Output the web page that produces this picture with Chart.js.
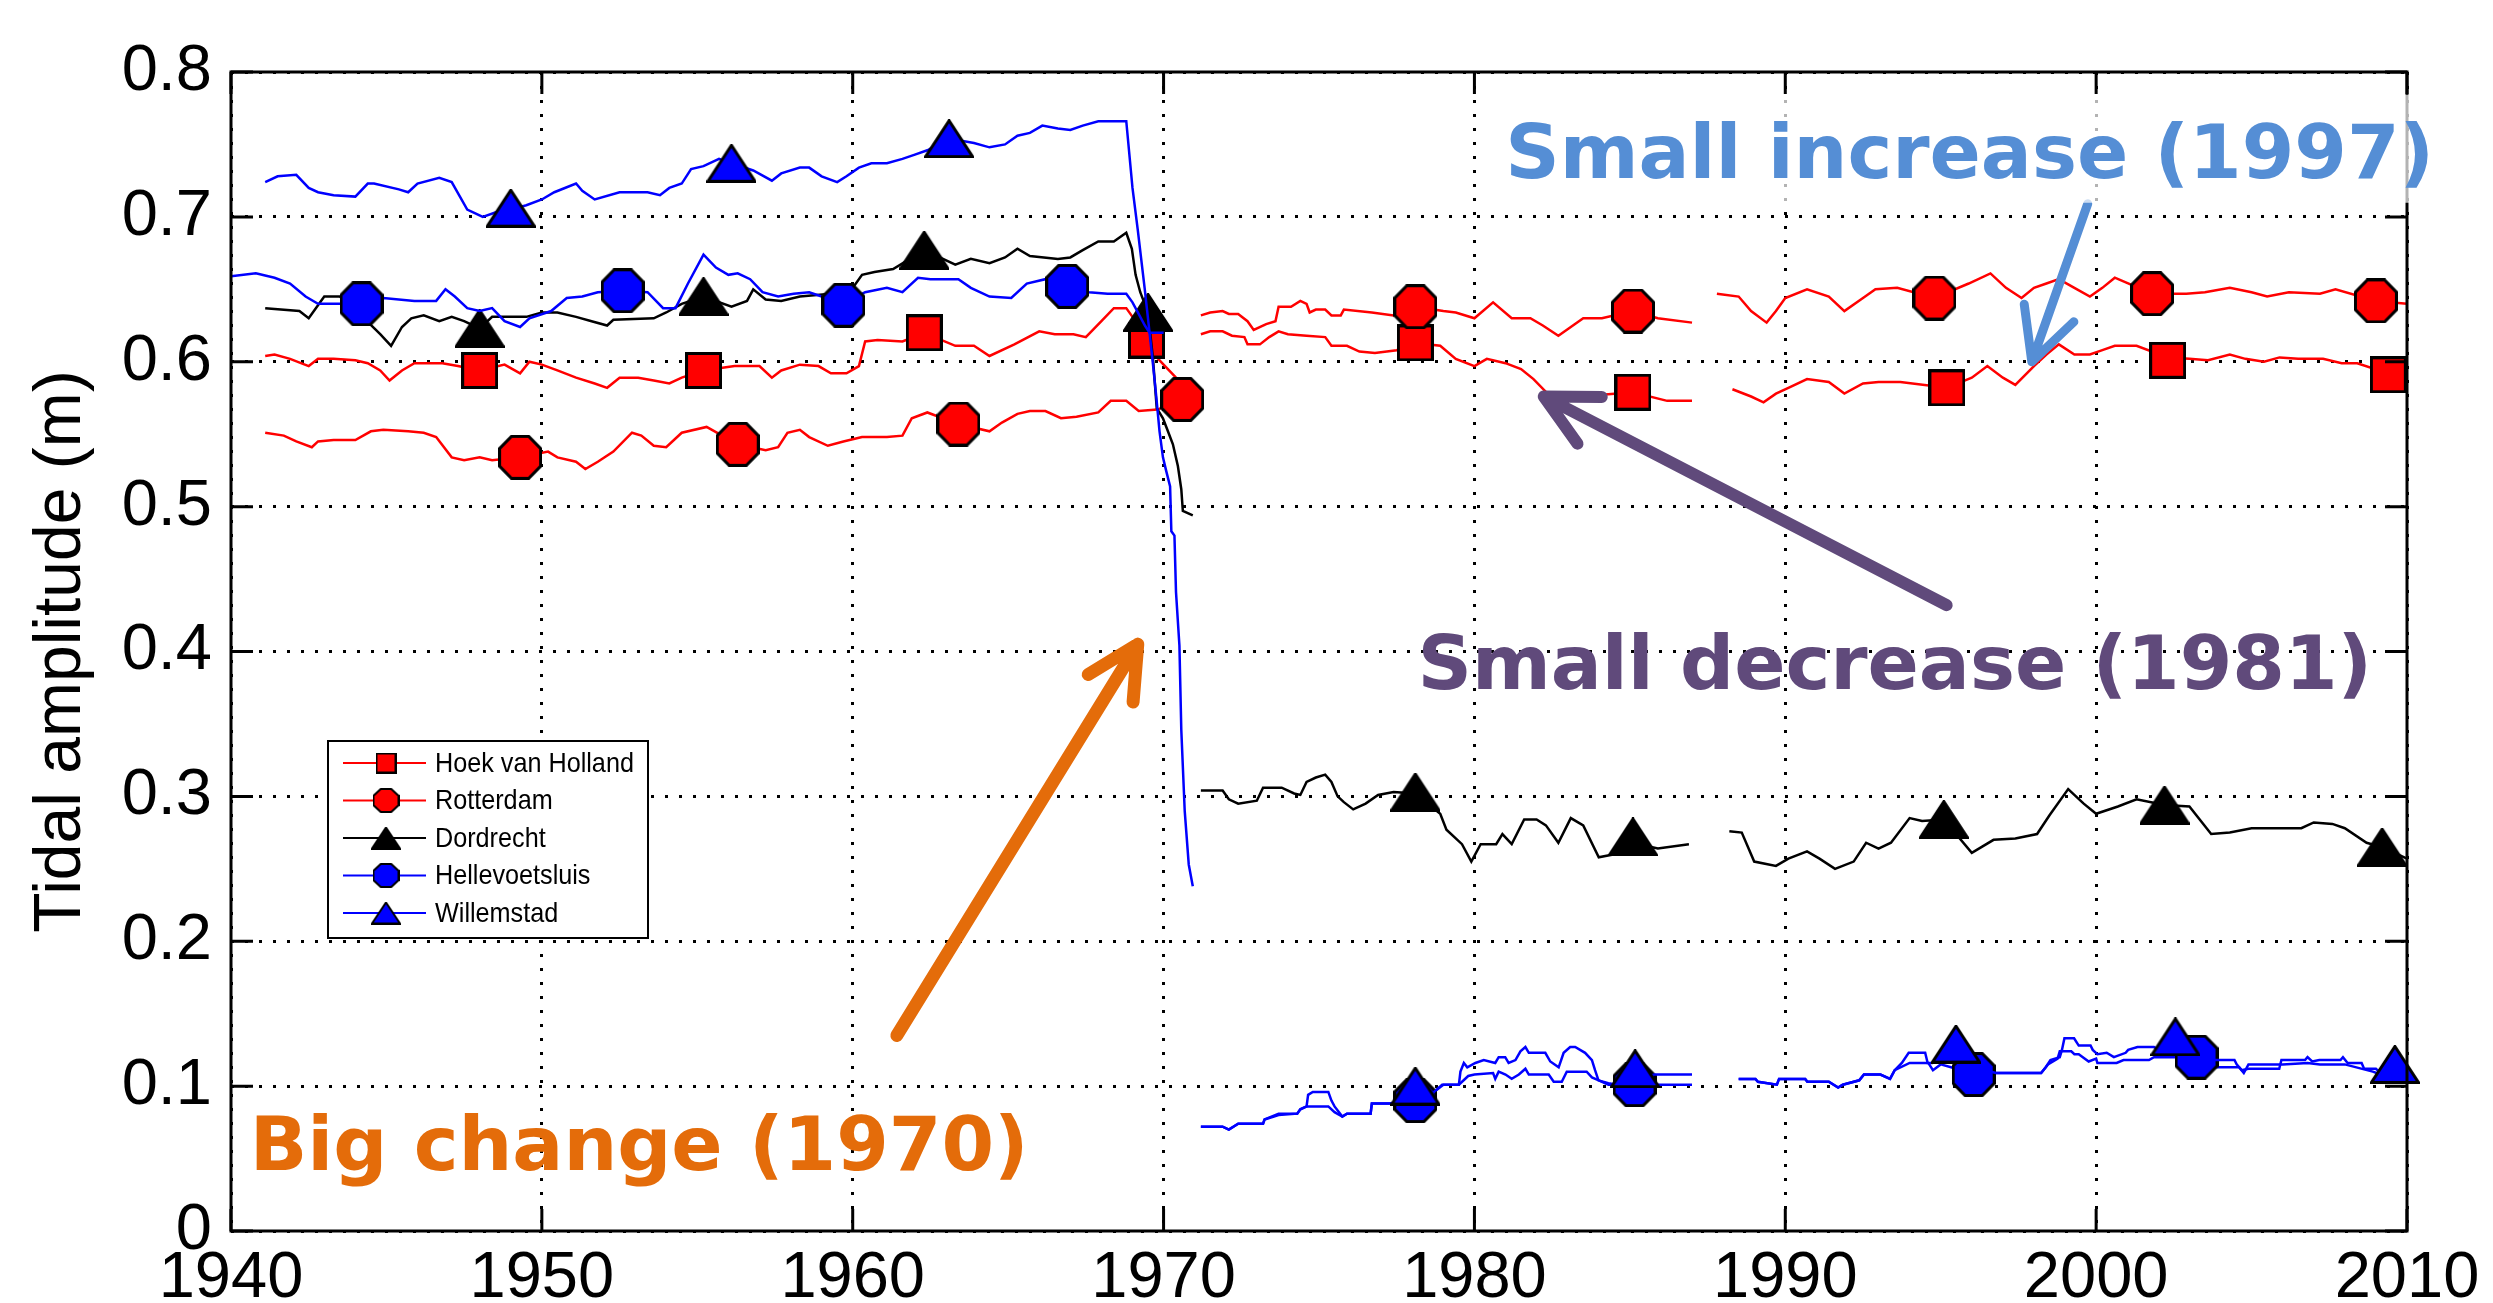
<!DOCTYPE html>
<html>
<head>
<meta charset="utf-8">
<title>Tidal amplitude</title>
<script src="https://cdn.jsdelivr.net/npm/chart.js@4.4.1/dist/chart.umd.min.js"></script>
<style>
  html, body { margin: 0; padding: 0; background: #fff; }
  canvas { display: block; }
</style>
</head>
<body>
<canvas id="chart" width="2493" height="1303"></canvas>
<script>
// ---- data ----
const yearTicks = [1940, 1950, 1960, 1970, 1980, 1990, 2000, 2010];
const ampTicks = [0, 0.1, 0.2, 0.3, 0.4, 0.5, 0.6, 0.7, 0.8];

const stations = ['Hoek van Holland', 'Rotterdam', 'Dordrecht', 'Hellevoetsluis', 'Willemstad'];

// Hoek van Holland
const hoekYears = [
  1941.1, 1941.4, 1941.9, 1942.5, 1942.8, 1943.3, 1944.0, 1944.4, 1944.8, 1945.1,
  1945.5, 1945.9, 1946.8, 1947.3, 1948.0, 1948.8, 1949.3, 1949.6, 1950.0, 1950.5,
  1951.1, 1951.7, 1952.1, 1952.5, 1953.1, 1953.6, 1954.1, 1954.5, 1955.2, 1956.2,
  1957.0, 1957.4, 1957.7, 1958.3, 1958.9, 1959.3, 1959.8, 1960.2, 1960.4, 1960.8,
  1961.6, 1962.3, 1963.3, 1963.9, 1964.4, 1965.2, 1966.0, 1966.5, 1967.1, 1967.5,
  1968.0, 1968.4, 1968.8, 1969.0, 1969.45, 1969.7, 1970.0, 1970.4, 1970.8, 1971.2,
  1971.5, 1971.9, 1972.2, 1972.6, 1972.7, 1973.1, 1973.4, 1973.7, 1974.0, 1974.6,
  1975.2, 1975.4, 1975.9, 1976.3, 1976.8, 1977.5, 1978.1, 1978.9, 1979.4, 1980.0,
  1980.4, 1981.0, 1981.5, 1981.9, 1982.4, 1983.3, 1984.0, 1985.1, 1986.2, 1987.0,
  1987.6, 1988.3, 1988.9, 1989.3, 1989.7, 1990.1, 1990.7, 1991.4, 1991.9, 1992.5,
  1993.0, 1993.7, 1995.2, 1996.0, 1996.5, 1997.0, 1997.4, 1998.0, 1998.4, 1998.8,
  1999.3, 1999.8, 2000.2, 2000.6, 2001.3, 2002.3, 2003.0, 2003.6, 2004.3, 2004.8,
  2005.4, 2005.9, 2006.5, 2007.3, 2007.9, 2008.4, 2009.4, 2010.0
];
const hoekValues = [
  0.604, 0.605, 0.602, 0.597, 0.602, 0.602, 0.601, 0.599, 0.594, 0.587,
  0.594, 0.599, 0.599, 0.597, 0.594, 0.598, 0.592, 0.600, 0.598, 0.594,
  0.589, 0.585, 0.582, 0.589, 0.589, 0.587, 0.585, 0.589, 0.594, 0.597,
  0.597, 0.589, 0.594, 0.598, 0.597, 0.592, 0.592, 0.597, 0.614, 0.615,
  0.614, 0.620, 0.611, 0.611, 0.604, 0.612, 0.621, 0.619, 0.619, 0.617,
  0.628, 0.637, 0.637, 0.631, 0.614, 0.605, 0.598, 0.589, null, 0.619,
  0.621, 0.621, 0.618, 0.617, 0.612, 0.612, 0.617, 0.621, 0.619, 0.618,
  0.617, 0.611, 0.611, 0.607, 0.606, 0.608, 0.613, 0.611, 0.602, 0.597,
  0.602, 0.599, 0.595, 0.588, 0.577, 0.577, 0.577, 0.579, 0.573, 0.573,
  null, 0.581, 0.576, 0.572, 0.578, 0.582, 0.588, 0.586, 0.578, 0.585,
  0.586, 0.586, 0.582, 0.589, 0.597, 0.589, 0.584, 0.597, 0.605, 0.612,
  0.605, 0.605, 0.608, 0.611, 0.611, 0.603, 0.602, 0.601, 0.605, 0.602,
  0.600, 0.603, 0.602, 0.602, 0.599, 0.599, 0.592, 0.597
];
const hoekMarkYears = [1948.0, 1955.2, 1962.3, 1969.45, 1978.1, 1985.1, 1995.2, 2002.3, 2009.4];
const hoekMarkValues = [0.594, 0.594, 0.620, 0.615, 0.613, 0.579, 0.582, 0.601, 0.591];

// Rotterdam
const rotterdamYears = [
  1941.1, 1941.7, 1942.1, 1942.6, 1942.8, 1943.3, 1944.0, 1944.5, 1944.9, 1945.7,
  1946.2, 1946.6, 1947.1, 1947.5, 1948.0, 1948.4, 1949.3, 1950.2, 1950.5, 1951.1,
  1951.4, 1951.8, 1952.3, 1952.9, 1953.2, 1953.6, 1954.0, 1954.5, 1955.3, 1956.3,
  1957.2, 1957.6, 1957.9, 1958.3, 1958.6, 1959.2, 1959.7, 1960.3, 1961.1, 1961.6,
  1961.9, 1962.4, 1963.4, 1964.4, 1964.8, 1965.3, 1965.7, 1966.2, 1966.7, 1967.2,
  1967.9, 1968.3, 1968.8, 1969.2, 1969.8, 1970.6, 1970.9, 1971.2, 1971.5, 1971.9,
  1972.1, 1972.4, 1972.7, 1972.9, 1973.3, 1973.6, 1973.7, 1974.1, 1974.4, 1974.6,
  1974.7, 1974.9, 1975.2, 1975.4, 1975.7, 1975.8, 1976.7, 1977.4, 1978.1, 1979.0,
  1979.4, 1980.0, 1980.6, 1981.2, 1981.8, 1982.2, 1982.7, 1983.1, 1983.5, 1984.1,
  1985.1, 1985.9, 1987.0, 1987.4, 1987.8, 1988.5, 1988.9, 1989.4, 1989.7, 1990.0,
  1990.7, 1991.4, 1991.9, 1992.5, 1992.9, 1993.6, 1994.8, 1995.9, 1996.6, 1997.1,
  1997.6, 1998.0, 1998.4, 1998.8, 1999.3, 1999.8, 2000.2, 2000.6, 2001.8, 2002.9,
  2003.5, 2004.3, 2005.0, 2005.5, 2006.2, 2007.2, 2007.7, 2009.0, 2010.0
];
const rotterdamValues = [
  0.551, 0.549, 0.545, 0.541, 0.545, 0.546, 0.546, 0.552, 0.553, 0.552,
  0.551, 0.548, 0.534, 0.532, 0.534, 0.532, 0.534, 0.538, 0.534, 0.531,
  0.526, 0.531, 0.538, 0.551, 0.549, 0.542, 0.541, 0.551, 0.555, 0.543,
  0.539, 0.541, 0.551, 0.553, 0.548, 0.542, 0.545, 0.548, 0.548, 0.549,
  0.561, 0.565, 0.557, 0.552, 0.558, 0.564, 0.566, 0.566, 0.561, 0.562,
  0.565, 0.573, 0.573, 0.566, 0.567, 0.574, null, 0.632, 0.634, 0.635,
  0.633, 0.633, 0.628, 0.622, 0.626, 0.628, 0.638, 0.638, 0.642, 0.640,
  0.634, 0.636, 0.636, 0.632, 0.632, 0.636, 0.634, 0.632, 0.638, 0.635,
  0.634, 0.630, 0.641, 0.630, 0.630, 0.625, 0.618, 0.624, 0.630, 0.630,
  0.635, 0.630, 0.627, null, 0.647, 0.645, 0.635, 0.627, 0.635, 0.644,
  0.650, 0.645, 0.635, 0.644, 0.650, 0.651, 0.644, 0.654, 0.661, 0.651,
  0.644, 0.651, 0.654, 0.657, 0.651, 0.645, 0.651, 0.658, 0.647, 0.647,
  0.648, 0.651, 0.648, 0.645, 0.648, 0.647, 0.650, 0.642, 0.640
];
const rotterdamMarkYears = [1949.3, 1956.3, 1963.4, 1970.6, 1978.1, 1985.1, 1994.8, 2001.8, 2009.0];
const rotterdamMarkValues = [0.534, 0.543, 0.557, 0.574, 0.638, 0.635, 0.644, 0.647, 0.642];

// Dordrecht
const dordrechtYears = [
  1941.1, 1942.2, 1942.5, 1943.0, 1943.5, 1943.9, 1944.8, 1945.15, 1945.5, 1945.8,
  1946.2, 1946.7, 1947.1, 1947.5, 1948.0, 1948.4, 1949.5, 1950.0, 1950.5, 1951.1,
  1951.6, 1952.1, 1952.3, 1953.6, 1954.0, 1954.5, 1955.2, 1956.1, 1956.6, 1956.8,
  1957.2, 1957.7, 1958.3, 1959.3, 1959.9, 1960.3, 1960.7, 1961.3, 1962.3, 1963.3,
  1963.8, 1964.4, 1964.9, 1965.3, 1965.7, 1966.6, 1967.0, 1967.4, 1967.9, 1968.4,
  1968.8, 1968.98, 1969.1, 1969.25, 1969.5, 1969.66, 1969.78, 1969.98, 1970.14, 1970.3,
  1970.46, 1970.57, 1970.62, 1970.94, 1971.1, 1971.2, 1971.9, 1972.1, 1972.4, 1973.0,
  1973.2, 1973.8, 1974.2, 1974.4, 1974.6, 1974.9, 1975.2, 1975.4, 1975.6, 1975.8,
  1976.1, 1976.5, 1976.9, 1977.4, 1978.1, 1978.9, 1979.1, 1979.6, 1979.9, 1980.2,
  1980.7, 1980.9, 1981.2, 1981.6, 1982.0, 1982.3, 1982.7, 1983.1, 1983.5, 1984.0,
  1984.5, 1985.1, 1985.9, 1986.9, 1987.5, 1988.2, 1988.6, 1989.0, 1989.7, 1990.1,
  1990.7, 1991.1, 1991.6, 1992.2, 1992.6, 1993.0, 1993.4, 1994.0, 1994.4, 1995.1,
  1996.0, 1996.7, 1997.4, 1998.1, 1998.5, 1999.1, 1999.6, 2000.0, 2000.7, 2001.3,
  2002.2, 2003.0, 2003.7, 2004.3, 2005.0, 2005.9, 2006.6, 2007.0, 2007.6, 2008.0,
  2008.7, 2009.2, 2010.0
];
const dordrechtValues = [
  0.637, 0.635, 0.630, 0.645, 0.645, 0.638, 0.619, 0.611, 0.624, 0.630,
  0.632, 0.628, 0.631, 0.628, 0.623, 0.631, 0.631, 0.634, 0.634, 0.631,
  0.628, 0.625, 0.629, 0.630, 0.634, 0.640, 0.645, 0.638, 0.642, 0.650,
  0.643, 0.642, 0.645, 0.647, 0.648, 0.660, 0.662, 0.664, 0.677, 0.667,
  0.671, 0.668, 0.672, 0.678, 0.673, 0.671, 0.672, 0.677, 0.683, 0.683,
  0.689, 0.678, 0.660, 0.648, 0.634, 0.602, 0.568, 0.561, 0.552, 0.543,
  0.528, 0.512, 0.497, 0.494, null, 0.304, 0.304, 0.298, 0.295, 0.297,
  0.306, 0.306, 0.302, 0.301, 0.310, 0.313, 0.315, 0.310, 0.300, 0.296,
  0.291, 0.295, 0.301, 0.303, 0.302, 0.288, 0.277, 0.267, 0.255, 0.267,
  0.267, 0.274, 0.267, 0.284, 0.284, 0.280, 0.268, 0.285, 0.280, 0.258,
  0.260, 0.268, 0.264, 0.267, null, 0.276, 0.275, 0.255, 0.252, 0.257,
  0.262, 0.257, 0.250, 0.255, 0.268, 0.264, 0.268, 0.285, 0.283, 0.284,
  0.261, 0.270, 0.271, 0.274, 0.287, 0.305, 0.295, 0.288, 0.293, 0.298,
  0.294, 0.293, 0.274, 0.275, 0.278, 0.278, 0.278, 0.282, 0.281, 0.278,
  0.268, 0.265, 0.257
];
const dordrechtMarkYears = [1948.0, 1955.2, 1962.3, 1969.5, 1978.1, 1985.1, 1995.1, 2002.2, 2009.2];
const dordrechtMarkValues = [0.623, 0.645, 0.677, 0.634, 0.303, 0.272, 0.284, 0.294, 0.265];

// Hellevoetsluis
const hellevoetYears = [
  1940.0, 1940.8, 1941.4, 1941.9, 1942.4, 1942.8, 1944.2, 1944.9, 1945.9, 1946.6,
  1946.9, 1947.2, 1947.6, 1948.0, 1948.4, 1948.8, 1949.3, 1949.6, 1950.3, 1950.8,
  1951.3, 1951.8, 1952.6, 1953.4, 1953.9, 1954.3, 1954.7, 1955.2, 1955.6, 1956.0,
  1956.3, 1956.7, 1957.1, 1957.6, 1958.1, 1958.6, 1959.7, 1960.4, 1961.1, 1961.6,
  1962.1, 1962.5, 1963.4, 1963.8, 1964.4, 1965.1, 1965.6, 1966.2, 1966.9, 1967.6,
  1968.2, 1968.8, 1969.0, 1969.4, 1969.55, 1970.0, 1970.6, 1971.2, 1971.9, 1972.1,
  1972.4, 1973.2, 1973.25, 1973.7, 1974.3, 1974.4, 1974.6, 1975.3, 1975.5, 1975.75,
  1975.9, 1976.66, 1976.7, 1977.3, 1978.1, 1978.7, 1979.0, 1979.5, 1979.8, 1980.0,
  1980.6, 1980.67, 1980.78, 1981.0, 1981.2, 1981.43, 1981.64, 1981.75, 1982.39, 1982.55,
  1982.81, 1982.97, 1983.61, 1983.78, 1984.0, 1984.31, 1984.6, 1985.15, 1985.8, 1987.0,
  1987.7, 1988.5, 1989.04, 1989.12, 1989.73, 1989.8, 1990.64, 1990.71, 1991.4, 1991.7,
  1991.85, 1992.38, 1992.53, 1993.06, 1993.37, 1993.52, 1994.0, 1994.6, 1994.75, 1995.0,
  1995.5, 1996.06, 1996.78, 1998.23, 1998.45, 1998.76, 1998.83, 1999.2, 1999.3, 1999.44,
  1999.76, 2000.0, 2000.04, 2000.66, 2000.88, 2001.7, 2001.86, 2003.23, 2003.84, 2004.6,
  2004.75, 2004.9, 2006.0, 2006.8, 2007.2, 2008.0, 2008.9, 2009.15, 2010.0
];
const hellevoetValues = [
  0.659, 0.661, 0.658, 0.654, 0.645, 0.640, 0.640, 0.644, 0.642, 0.642,
  0.650, 0.645, 0.637, 0.635, 0.637, 0.628, 0.624, 0.630, 0.635, 0.644,
  0.645, 0.648, 0.649, 0.648, 0.637, 0.637, 0.654, 0.674, 0.665, 0.660,
  0.661, 0.657, 0.648, 0.645, 0.647, 0.648, 0.640, 0.648, 0.651, 0.648,
  0.658, 0.657, 0.657, 0.651, 0.645, 0.644, 0.654, 0.657, 0.652, 0.648,
  0.647, 0.647, 0.641, 0.625, 0.620, 0.620, null, 0.072, 0.072, 0.070,
  0.074, 0.074, 0.077, 0.080, 0.081, 0.084, 0.086, 0.086, 0.082, 0.079,
  0.081, 0.081, 0.088, 0.088, 0.090, 0.096, 0.101, 0.101, 0.107, 0.108,
  0.109, 0.105, 0.110, 0.108, 0.105, 0.108, 0.112, 0.108, 0.108, 0.103,
  0.103, 0.110, 0.110, 0.106, 0.104, 0.101, 0.101, 0.101, 0.101, 0.101,
  null, 0.105, 0.105, 0.103, 0.101, 0.105, 0.105, 0.103, 0.103, 0.099,
  0.101, 0.104, 0.108, 0.108, 0.105, 0.111, 0.116, 0.116, 0.111, 0.115,
  0.112, 0.108, 0.109, 0.109, 0.115, 0.119, 0.124, 0.124, 0.122, 0.122,
  0.117, 0.119, 0.116, 0.116, 0.118, 0.118, 0.120, 0.120, 0.113, 0.113,
  0.109, 0.115, 0.115, 0.116, 0.115, 0.115, 0.110, 0.108, 0.105
];
const hellevoetMarkYears = [1944.2, 1952.6, 1959.7, 1966.9, 1978.1, 1985.15, 1996.06, 2003.23];
const hellevoetMarkValues = [0.640, 0.649, 0.639, 0.652, 0.090, 0.101, 0.108, 0.120];

// Willemstad
const willemYears = [
  1941.1, 1941.5, 1942.1, 1942.5, 1942.8, 1943.3, 1944.0, 1944.4, 1944.6, 1945.4,
  1945.7, 1946.0, 1946.7, 1947.1, 1947.6, 1948.1, 1948.5, 1949.0, 1949.5, 1950.0,
  1950.4, 1951.1, 1951.3, 1951.7, 1952.5, 1953.4, 1953.8, 1954.1, 1954.5, 1954.8,
  1955.2, 1955.7, 1956.1, 1956.8, 1957.4, 1957.7, 1958.3, 1958.6, 1959.0, 1959.5,
  1959.8, 1960.2, 1960.6, 1961.1, 1961.6, 1962.0, 1962.4, 1963.1, 1963.9, 1964.4,
  1964.9, 1965.3, 1965.7, 1966.1, 1966.6, 1967.0, 1967.4, 1967.9, 1968.4, 1968.8,
  1969.0, 1969.17, 1969.39, 1969.55, 1969.66, 1969.76, 1969.87, 1969.98, 1970.08, 1970.21,
  1970.25, 1970.35, 1970.4, 1970.51, 1970.57, 1970.68, 1970.81, 1970.94, 1971.1, 1971.2,
  1971.9, 1972.1, 1972.4, 1973.2, 1973.25, 1973.7, 1974.3, 1974.4, 1974.6, 1974.65,
  1974.8, 1975.3, 1975.4, 1975.5, 1975.75, 1975.9, 1976.66, 1976.7, 1977.3, 1978.1,
  1978.7, 1978.96, 1979.5, 1979.55, 1979.66, 1979.77, 1980.03, 1980.3, 1980.67, 1980.78,
  1980.99, 1981.1, 1981.32, 1981.48, 1981.64, 1981.75, 1982.28, 1982.44, 1982.71, 1982.87,
  1983.08, 1983.24, 1983.56, 1983.78, 1983.88, 1983.99, 1984.31, 1984.6, 1985.17, 1985.8,
  1987.0, 1987.7, 1988.5, 1989.04, 1989.12, 1989.73, 1989.8, 1990.64, 1990.71, 1991.4,
  1991.7, 1991.85, 1992.38, 1992.53, 1993.06, 1993.37, 1993.52, 1993.75, 1993.97, 1994.5,
  1994.58, 1994.73, 1995.0, 1995.49, 1996.0, 1996.78, 1998.23, 1998.38, 1998.53, 1998.83,
  1998.9, 1998.98, 1999.29, 1999.44, 1999.82, 1999.89, 2000.04, 2000.34, 2000.57, 2000.95,
  2001.03, 2001.33, 2001.86, 2002.01, 2002.55, 2003.0, 2003.84, 2004.45, 2004.52, 2004.68,
  2004.9, 2005.89, 2005.96, 2006.72, 2006.8, 2006.95, 2007.18, 2007.86, 2007.94, 2008.09,
  2008.54, 2008.62, 2009.0, 2009.15, 2009.61, 2010.0
];
const willemValues = [
  0.724, 0.728, 0.729, 0.720, 0.717, 0.715, 0.714, 0.723, 0.723, 0.719,
  0.717, 0.723, 0.727, 0.724, 0.705, 0.700, 0.703, 0.705, 0.708, 0.712,
  0.717, 0.723, 0.718, 0.712, 0.717, 0.717, 0.715, 0.720, 0.723, 0.733,
  0.735, 0.740, 0.737, 0.732, 0.725, 0.730, 0.734, 0.734, 0.728, 0.724,
  0.728, 0.734, 0.737, 0.737, 0.740, 0.743, 0.746, 0.754, 0.751, 0.748,
  0.750, 0.756, 0.758, 0.763, 0.761, 0.760, 0.763, 0.766, 0.766, 0.766,
  0.720, 0.691, 0.651, 0.620, 0.598, 0.577, 0.552, 0.534, 0.525, 0.514,
  0.483, 0.480, 0.441, 0.404, 0.346, 0.290, 0.253, 0.238, null, 0.072,
  0.072, 0.070, 0.074, 0.074, 0.077, 0.081, 0.081, 0.084, 0.086, 0.094,
  0.096, 0.096, 0.090, 0.086, 0.079, 0.081, 0.081, 0.088, 0.088, 0.093,
  0.096, 0.101, 0.101, 0.110, 0.116, 0.113, 0.116, 0.118, 0.116, 0.120,
  0.120, 0.116, 0.118, 0.124, 0.127, 0.123, 0.123, 0.117, 0.113, 0.123,
  0.127, 0.127, 0.123, 0.118, 0.111, 0.104, 0.102, 0.101, 0.105, 0.108,
  0.108, null, 0.105, 0.105, 0.103, 0.101, 0.105, 0.105, 0.103, 0.103,
  0.099, 0.101, 0.104, 0.108, 0.108, 0.105, 0.111, 0.116, 0.123, 0.123,
  0.116, 0.116, 0.120, 0.122, 0.113, 0.109, 0.109, 0.113, 0.118, 0.120,
  0.125, 0.133, 0.133, 0.128, 0.128, 0.125, 0.122, 0.123, 0.120, 0.123,
  0.125, 0.127, 0.127, 0.125, 0.124, 0.120, 0.118, 0.118, 0.115, 0.111,
  0.112, 0.112, 0.118, 0.118, 0.120, 0.117, 0.118, 0.118, 0.120, 0.116,
  0.116, 0.112, 0.112, 0.109, 0.104, 0.106
];
const willemMarkYears = [1949.0, 1956.1, 1963.1, 1978.1, 1985.17, 1995.49, 2002.55, 2009.61];
const willemMarkValues = [0.706, 0.737, 0.754, 0.100, 0.112, 0.129, 0.134, 0.115];

// annotations, in data units (year, metres)
const noteTexts = ['Big change (1970)', 'Small decrease (1981)', 'Small increase (1997)'];
const noteAt = [[1940.6, 0.042], [1978.17, 0.374], [1980.99, 0.727]];
const arrowFrom = [[1961.42, 0.135], [1995.19, 0.432], [1999.73, 0.709]];
const arrowTo = [[1969.17, 0.405], [1982.23, 0.576], [1997.93, 0.600]];

// ---- styles ----
const lineColors = ['#ff0000', '#ff0000', '#000000', '#0000ff', '#0000ff'];
const markerShapes = ['square', 'octagon', 'triangle', 'octagon', 'triangle'];
const noteColors = ['#e46c0a', '#604a7b', '#558ed5'];
const arrowWidths = [13, 12, 9];

function markerCanvas(shape, w, h, fill, lw) {
  const c = document.createElement('canvas');
  c.width = w; c.height = h;
  const g = c.getContext('2d');
  const p = lw / 2;
  g.fillStyle = fill;
  g.strokeStyle = '#000';
  g.lineWidth = lw;
  g.beginPath();
  if (shape === 'square') {
    g.rect(p, p, w - lw, h - lw);
  } else if (shape === 'triangle') {
    g.moveTo(w / 2, p);
    g.lineTo(w - p, h - p);
    g.lineTo(p, h - p);
    g.closePath();
  } else {
    const a = (w - lw) * 0.29, b = (h - lw) * 0.29;
    g.moveTo(p + a, p); g.lineTo(w - p - a, p);
    g.lineTo(w - p, p + b); g.lineTo(w - p, h - p - b);
    g.lineTo(w - p - a, h - p); g.lineTo(p + a, h - p);
    g.lineTo(p, h - p - b); g.lineTo(p, p + b);
    g.closePath();
  }
  g.fill();
  g.stroke();
  return c;
}

const plotSizes = { square: [37, 37], octagon: [44, 45], triangle: [50, 39] };
const legendSizes = { square: [21, 21], octagon: [27, 25], triangle: [30, 23] };
const plotMarkers = markerShapes.map((s, i) => markerCanvas(s, plotSizes[s][0], plotSizes[s][1], lineColors[i], 3));
const legendMarkers = markerShapes.map((s, i) => markerCanvas(s, legendSizes[s][0], legendSizes[s][1], lineColors[i], 2));

const series = [
  [hoekYears, hoekValues, hoekMarkYears, hoekMarkValues],
  [rotterdamYears, rotterdamValues, rotterdamMarkYears, rotterdamMarkValues],
  [dordrechtYears, dordrechtValues, dordrechtMarkYears, dordrechtMarkValues],
  [hellevoetYears, hellevoetValues, hellevoetMarkYears, hellevoetMarkValues],
  [willemYears, willemValues, willemMarkYears, willemMarkValues]
];

const pairs = (xs, ys) => xs.map((x, i) => ({ x: x, y: ys[i] }));

const datasets = [];
series.forEach((s, i) => {
  datasets.push({
    label: stations[i],
    data: pairs(s[0], s[1]),
    borderColor: lineColors[i],
    borderWidth: 2.5,
    pointRadius: 0,
    tension: 0,
    spanGaps: false,
    order: 20 - 2 * i
  });
  datasets.push({
    label: stations[i] + ' markers',
    data: pairs(s[2], s[3]),
    showLine: false,
    pointStyle: plotMarkers[i],
    pointRadius: 12,
    pointHoverRadius: 12,
    clip: false,
    order: 19 - 2 * i
  });
});

// box, inward ticks, legend and annotations
const decorations = {
  id: 'decorations',
  afterDatasetsDraw(chart) {
    const { ctx, chartArea: a, scales } = chart;
    const sx = scales.x, sy = scales.y;
    ctx.save();

    // axes box and inward tick marks
    ctx.strokeStyle = '#000';
    ctx.lineWidth = 3;
    ctx.strokeRect(a.left, a.top, a.right - a.left, a.bottom - a.top);
    ctx.beginPath();
    yearTicks.forEach(v => {
      const px = sx.getPixelForValue(v);
      ctx.moveTo(px, a.bottom); ctx.lineTo(px, a.bottom - 22);
      ctx.moveTo(px, a.top); ctx.lineTo(px, a.top + 22);
    });
    ampTicks.forEach(v => {
      const py = sy.getPixelForValue(v);
      ctx.moveTo(a.left, py); ctx.lineTo(a.left + 22, py);
      ctx.moveTo(a.right, py); ctx.lineTo(a.right - 22, py);
    });
    ctx.stroke();

    // legend
    const lx = a.left + 97, ly = a.top + 669, lw = 320, lh = 197;
    ctx.fillStyle = '#fff';
    ctx.fillRect(lx, ly, lw, lh);
    ctx.lineWidth = 2;
    ctx.strokeRect(lx, ly, lw, lh);
    stations.forEach((name, i) => {
      const y = ly + 22 + i * 37.5;
      ctx.strokeStyle = lineColors[i];
      ctx.lineWidth = 2;
      ctx.beginPath();
      ctx.moveTo(lx + 15, y); ctx.lineTo(lx + 98, y);
      ctx.stroke();
      const m = legendMarkers[i];
      ctx.drawImage(m, lx + 58 - m.width / 2, y - m.height / 2);
      ctx.save();
      ctx.translate(lx + 107, y + 1);
      ctx.scale(0.9, 1);
      ctx.fillStyle = '#000';
      ctx.font = '28px "Liberation Sans", Arial, sans-serif';
      ctx.textBaseline = 'middle';
      ctx.fillText(name, 0, 0);
      ctx.restore();
    });

    // arrows
    arrowFrom.forEach((f, i) => {
      const x0 = sx.getPixelForValue(f[0]), y0 = sy.getPixelForValue(f[1]);
      const x1 = sx.getPixelForValue(arrowTo[i][0]), y1 = sy.getPixelForValue(arrowTo[i][1]);
      const ang = Math.atan2(y0 - y1, x0 - x1);
      const head = 58, spread = 27 * Math.PI / 180;
      ctx.strokeStyle = noteColors[i];
      ctx.lineWidth = arrowWidths[i];
      ctx.lineCap = 'round';
      ctx.lineJoin = 'round';
      ctx.beginPath();
      ctx.moveTo(x0, y0); ctx.lineTo(x1, y1);
      ctx.moveTo(x1 + head * Math.cos(ang + spread), y1 + head * Math.sin(ang + spread));
      ctx.lineTo(x1, y1);
      ctx.lineTo(x1 + head * Math.cos(ang - spread), y1 + head * Math.sin(ang - spread));
      ctx.stroke();
    });

    // annotation texts (slightly widened to match the original lettering)
    ctx.font = 'bold 74px "DejaVu Sans", Verdana, sans-serif';
    ctx.textBaseline = 'alphabetic';
    ctx.textAlign = 'left';
    const widen = 1.022;
    noteTexts.forEach((t, i) => {
      const tx = sx.getPixelForValue(noteAt[i][0]), ty = sy.getPixelForValue(noteAt[i][1]);
      if (i === 2) {
        const w = ctx.measureText(t).width * widen;
        ctx.fillStyle = 'rgba(255,255,255,0.7)';
        ctx.fillRect(tx - 2, ty - 83, w + 12, 108);
      }
      ctx.save();
      ctx.translate(tx, ty);
      ctx.scale(widen, 1);
      ctx.fillStyle = noteColors[i];
      ctx.fillText(t, 0, 0);
      ctx.restore();
    });
    ctx.restore();
  }
};

Chart.defaults.font.family = '"Liberation Sans", Arial, sans-serif';
Chart.defaults.color = '#000';

new Chart(document.getElementById('chart').getContext('2d'), {
  type: 'line',
  data: { datasets: datasets },
  options: {
    responsive: false,
    animation: false,
    devicePixelRatio: 1,
    events: [],
    layout: { padding: { top: 72, right: 86, left: 0, bottom: 0 } },
    plugins: {
      legend: { display: false },
      tooltip: { enabled: false }
    },
    scales: {
      x: {
        type: 'linear',
        min: 1940,
        max: 2010,
        afterBuildTicks: s => { s.ticks = yearTicks.map(v => ({ value: v })); },
        afterFit: s => { s.height = 72; },
        ticks: {
          font: { size: 65 },
          color: '#000',
          padding: 9,
          maxRotation: 0,
          autoSkip: false,
          callback: v => String(v)
        },
        grid: { color: '#000', lineWidth: 3, drawTicks: false },
        border: { display: false, dash: [3, 11] }
      },
      y: {
        type: 'linear',
        min: 0,
        max: 0.8,
        afterBuildTicks: s => { s.ticks = ampTicks.map(v => ({ value: v })); },
        afterFit: s => { s.width = 231; },
        ticks: {
          font: { size: 65 },
          color: '#000',
          padding: 19,
          callback: v => String(Math.round(v * 10) / 10)
        },
        title: {
          display: true,
          text: 'Tidal amplitude (m)',
          font: { size: 66 },
          color: '#000',
          padding: { top: 22, bottom: 0 }
        },
        grid: { color: '#000', lineWidth: 3, drawTicks: false },
        border: { display: false, dash: [3, 11] }
      }
    }
  },
  plugins: [decorations]
});
</script>
</body>
</html>
